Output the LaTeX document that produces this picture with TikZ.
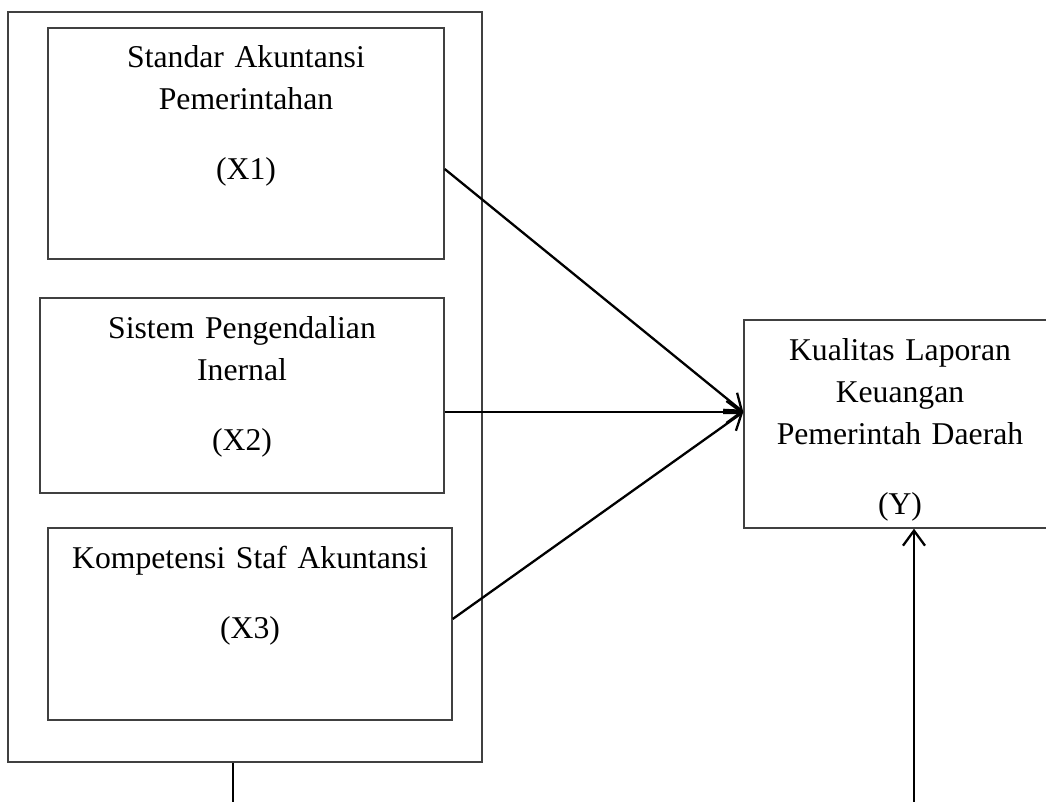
\documentclass[tikz,border=0pt]{standalone}
\usepackage{fontspec}
\setmainfont{Liberation Serif}
\usetikzlibrary{arrows.meta}
\tikzset{
  box/.style={draw=black!75, line width=1.4pt, rectangle, inner sep=0pt, fill=none},
  txt/.style={inner sep=0pt, text width=420pt, align=center, anchor=base,
    font=\fontsize{31.7}{42}\selectfont},
  conn/.style={draw=black, line width=2.3pt, -{Straight Barb[length=15pt,width=22pt,line width=2.3pt]}},
  plain/.style={draw=black, line width=2.3pt}
}
\begin{document}
\begin{tikzpicture}[x=1pt,y=-1pt]
\useasboundingbox (0,0) rectangle (1046,802);
% boxes
\node[box, minimum width=474pt, minimum height=750pt] (outer) at (245,387) {};
\node[box, minimum width=396pt, minimum height=231pt] (x1) at (246,143.5) {};
\node[box, minimum width=404pt, minimum height=195pt] (x2) at (242,395.5) {};
\node[box, minimum width=404pt, minimum height=192pt] (x3) at (250,624) {};
\node[box, minimum width=312pt, minimum height=208pt] (y) at (900,424) {};
% texts
\node[txt] (t1) at (246,68) {Standar Akuntansi\\Pemerintahan\\[28pt](X1)};
\node[txt] (t2) at (242,338) {Sistem Pengendalian\\Inernal\\[28pt](X2)};
\node[txt] (t3) at (250,568) {Kompetensi Staf Akuntansi\\[28pt](X3)};
\node[txt] (ty) at (900,360) {Kualitas Laporan\\Keuangan\\Pemerintah Daerah\\[28pt](Y)};
% free ends
\coordinate (bl) at (233,805);
\coordinate (br) at (914,805);
% connectors
\draw[conn] ([yshift=-25.5pt]x1.east) -- ([yshift=12pt]y.west);
\draw[conn] ([yshift=-16.5pt]x2.east) -- ([yshift=12pt]y.west);
\draw[conn] ([yshift=5pt]x3.east) -- ([yshift=12pt]y.west);
\draw[conn] (br) -- ([xshift=14pt]y.south);
\draw[plain] ([xshift=-12pt]outer.south) -- (bl);
\end{tikzpicture}
\end{document}
